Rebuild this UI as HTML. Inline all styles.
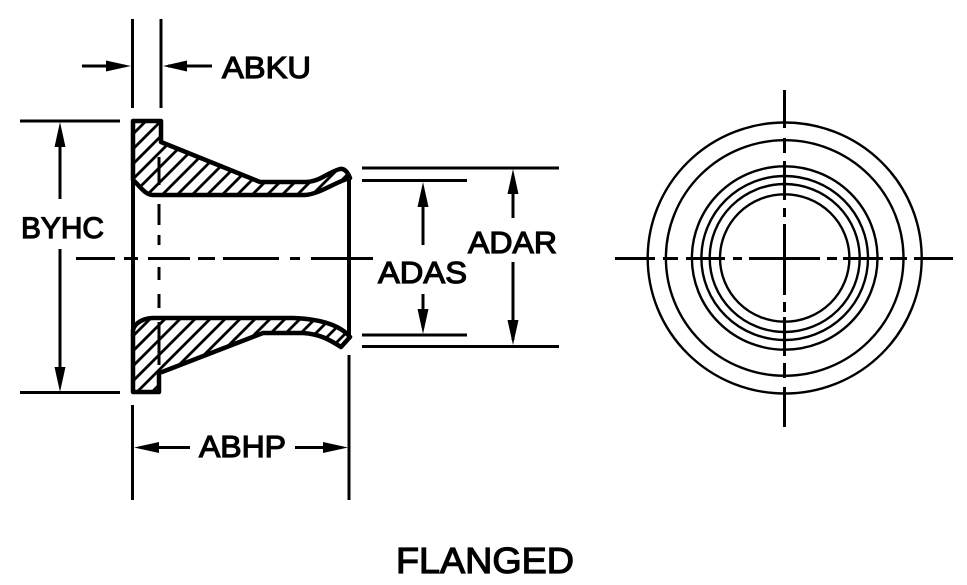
<!DOCTYPE html>
<html><head><meta charset="utf-8"><style>
html,body{margin:0;padding:0;background:#fff}
svg{display:block}
text{font-family:"Liberation Sans",Arial,sans-serif;fill:#000;stroke:#000;stroke-width:1.2px}
</style></head><body>
<svg width="967" height="585" viewBox="0 0 967 585" xmlns="http://www.w3.org/2000/svg">
<defs>
<clipPath id="u"><path d="M133,121H161V142L260,182H305C320,182 328,172 340,169Q346,168 350,178C335,182 320,194 305,195H153C145,195 140,186 133,180Z"/></clipPath>
<clipPath id="l"><path d="M133,330C135,322 145,318 153,318H293C320,319 340,325 350,337L341,347C330,340 320,334 303,333H263L162,372H159V392H133Z"/></clipPath>
</defs>
<g stroke="#000" fill="none">
<!-- hatch upper -->
<g clip-path="url(#u)" stroke-width="2.800">
<path d="M100,167L167,100M100,182L182,100M100,197L197,100M100,212L212,100M100,227L227,100M100,242L242,100M100,257L257,100M100,272L272,100M100,287L287,100M100,302L302,100M100,317L317,100M100,332L332,100M100,347L347,100M100,362L362,100M100,377L377,100M100,392L392,100M100,407L407,100M100,422L422,100M100,437L437,100"/>
</g>
<!-- hatch lower -->
<g clip-path="url(#l)" stroke-width="2.800">
<path d="M100,354L354,100M100,369L369,100M100,384L384,100M100,399L399,100M100,414L414,100M100,429L429,100M100,444L444,100M100,459L459,100M100,474L474,100M100,489L489,100M100,504L504,100M100,519L519,100M100,534L534,100M100,549L549,100M100,564L564,100M100,579L579,100M100,594L594,100"/>
</g>
<!-- body outlines -->
<g stroke-width="4.500" stroke-linejoin="round">
<path d="M133,121H161V142L260,182H305C320,182 328,172 340,169Q346,168 350,178C335,182 320,194 305,195H153C145,195 140,186 133,180Z"/>
<path d="M133,330C135,322 145,318 153,318H293C320,319 340,325 350,337L341,347C330,340 320,334 303,333H263L162,372H159V392H133Z"/>
</g>
<g stroke-width="3">
<path d="M133,121V392M349,178V338" stroke-width="4"/>
<!-- center line left -->
<path d="M76,258.500H115M124,258.500H138M148,258.500H190M198,258.500H215M223,258.500H279M290,258.500H300M311,258.500H373"/>
<!-- hidden line -->
<path d="M159,157V185M159,204V225M159,235V245M159,267V280M159,294V308M159,322V365"/>
<!-- ABKU -->
<path d="M132.500,19V108M161,19V108M82,66H125M168,66H212"/>
<!-- BYHC -->
<path d="M20,121H120M20,392.500H120M60,130V199M60,249V385"/>
<!-- ABHP -->
<path d="M132.500,405V500M349,355V500M140,447.500H190M295,447.500H342"/>
<!-- ADAS / ADAR -->
<path d="M362,168H559M362,180.500H467M362,335H467M362,346.500H559M423,190V245M423,294V328M513,176V218M513,262V340"/>
<!-- right view center lines -->
<path d="M615,258.500H655M663,258.500H678M686,258.500H725M733,258.500H742M749,258.500H820M827,258.500H837M843,258.500H883M890,258.500H907M914,258.500H953"/>
<path d="M784.500,90V128M784.500,138V153M784.500,161V200M784.500,208V217M784.500,224V295M784.500,302V312M784.500,317V356M784.500,363V378M784.500,387V427"/>
</g>
<g stroke-width="2.400">
<ellipse cx="784.700" cy="258" rx="137" ry="135.500"/>
<ellipse cx="784.700" cy="258" rx="118.800" ry="117.800"/>
<ellipse cx="784.700" cy="258" rx="92.800" ry="91.700"/>
<ellipse cx="784.700" cy="258" rx="83.300" ry="82"/>
<ellipse cx="784.700" cy="258" rx="75" ry="74"/>
<ellipse cx="784.700" cy="258" rx="64.700" ry="63.700"/>
</g>
</g>
<!-- arrowheads -->
<g fill="#000">
<path d="M131,66L106,60.500V71.500Z"/>
<path d="M163,66L187,60.500V71.500Z"/>
<path d="M60,122L54.500,147H65.500Z"/>
<path d="M60,392L54.500,367H65.500Z"/>
<path d="M134,447.500L159,442V453Z"/>
<path d="M348,447.500L323,442V453Z"/>
<path d="M423,182L417.500,207H428.500Z"/>
<path d="M423,334L417.500,309H428.500Z"/>
<path d="M513,169L507.500,194H518.500Z"/>
<path d="M513,345L507.500,320H518.500Z"/>
</g>
<!-- labels -->
<text x="222" y="78" font-size="31" textLength="89" lengthAdjust="spacingAndGlyphs">ABKU</text>
<text x="21" y="238" font-size="30" textLength="83" lengthAdjust="spacingAndGlyphs">BYHC</text>
<text x="199" y="457" font-size="31" textLength="87" lengthAdjust="spacingAndGlyphs">ABHP</text>
<text x="378" y="283" font-size="31" textLength="89" lengthAdjust="spacingAndGlyphs">ADAS</text>
<text x="468" y="253" font-size="31" textLength="89" lengthAdjust="spacingAndGlyphs">ADAR</text>
<text x="396" y="573" font-size="36" textLength="178" lengthAdjust="spacingAndGlyphs">FLANGED</text>
</svg>
</body></html>
